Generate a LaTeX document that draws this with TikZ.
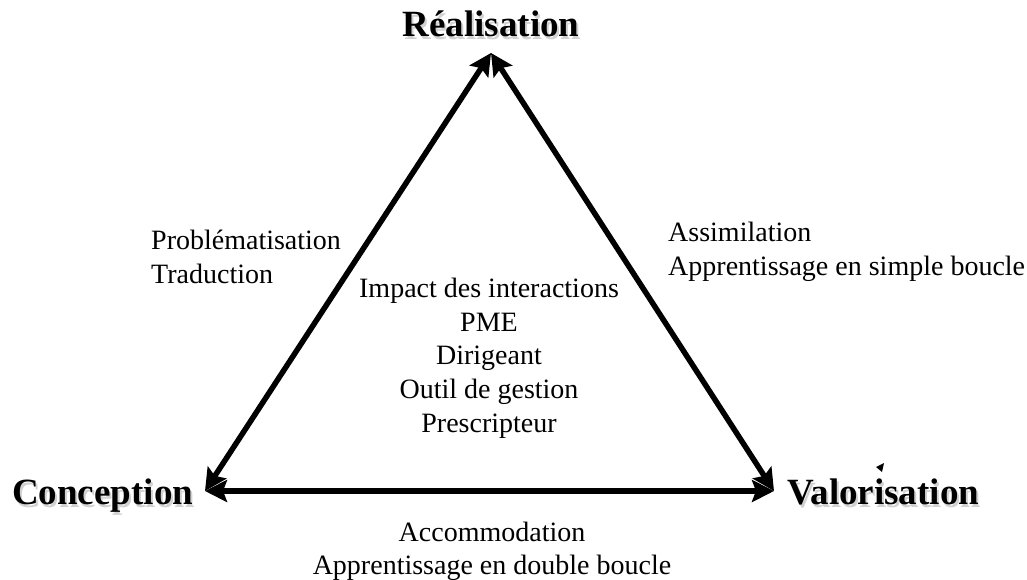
\documentclass[tikz,border=0pt]{standalone}
\usepackage{fontspec}
\setmainfont{Liberation Serif}
\usetikzlibrary{arrows.meta}
\begin{document}
\begin{tikzpicture}[x=1pt,y=-1pt,
  edge/.style={line width=5.5pt,{Stealth[length=22pt,width=22pt,inset=4pt]}-{Stealth[length=22pt,width=22pt,inset=4pt]}},
  vertexlabel/.style={inner sep=0pt,font=\fontsize{37}{40}\selectfont\bfseries},
  shadowlabel/.style={vertexlabel,text=black!18},
  bodytext/.style={inner sep=0pt,font=\fontsize{28}{33.6}\selectfont}]
\useasboundingbox[fill=white] (0,0) rectangle (1027,580);
% vertex tips
\coordinate (top) at (491,53);
\coordinate (left) at (205,491);
\coordinate (right) at (774,491);
% edges
\draw[edge] (left) -- (top);
\draw[edge] (top) -- (right);
\draw[edge] (left) -- (right);
% vertex labels with soft shadows
\node[shadowlabel,anchor=base] (realS) at (493,40) {Réalisation};
\node[vertexlabel,anchor=base] (real) at (491,37) {Réalisation};
\node[shadowlabel,anchor=base west] (concS) at (14,507) {Conception};
\node[vertexlabel,anchor=base west] (conc) at (12,504) {Conception};
\node[shadowlabel,anchor=base west] (valS) at (789,507) {Valorisation};
\node[vertexlabel,anchor=base west] (val) at (787,504) {Valorisation};
% side texts
\node[bodytext,align=left,anchor=north west] (lefttxt) at (151,230) {Problématisation\\Traduction};
\node[bodytext,align=left,anchor=north west] (righttxt) at (668,222) {Assimilation\\Apprentissage en simple boucle};
\node[bodytext,align=center,anchor=north] (centre) at (489,278) {Impact des interactions\\PME\\Dirigeant\\Outil de gestion\\Prescripteur};
\node[bodytext,align=center,anchor=north] (bottomtxt) at (492,521.5) {Accommodation\\Apprentissage en double boucle};
% small stray mark
\fill (876,467) -- (884,463) -- (882,472) -- cycle;
\end{tikzpicture}
\end{document}
